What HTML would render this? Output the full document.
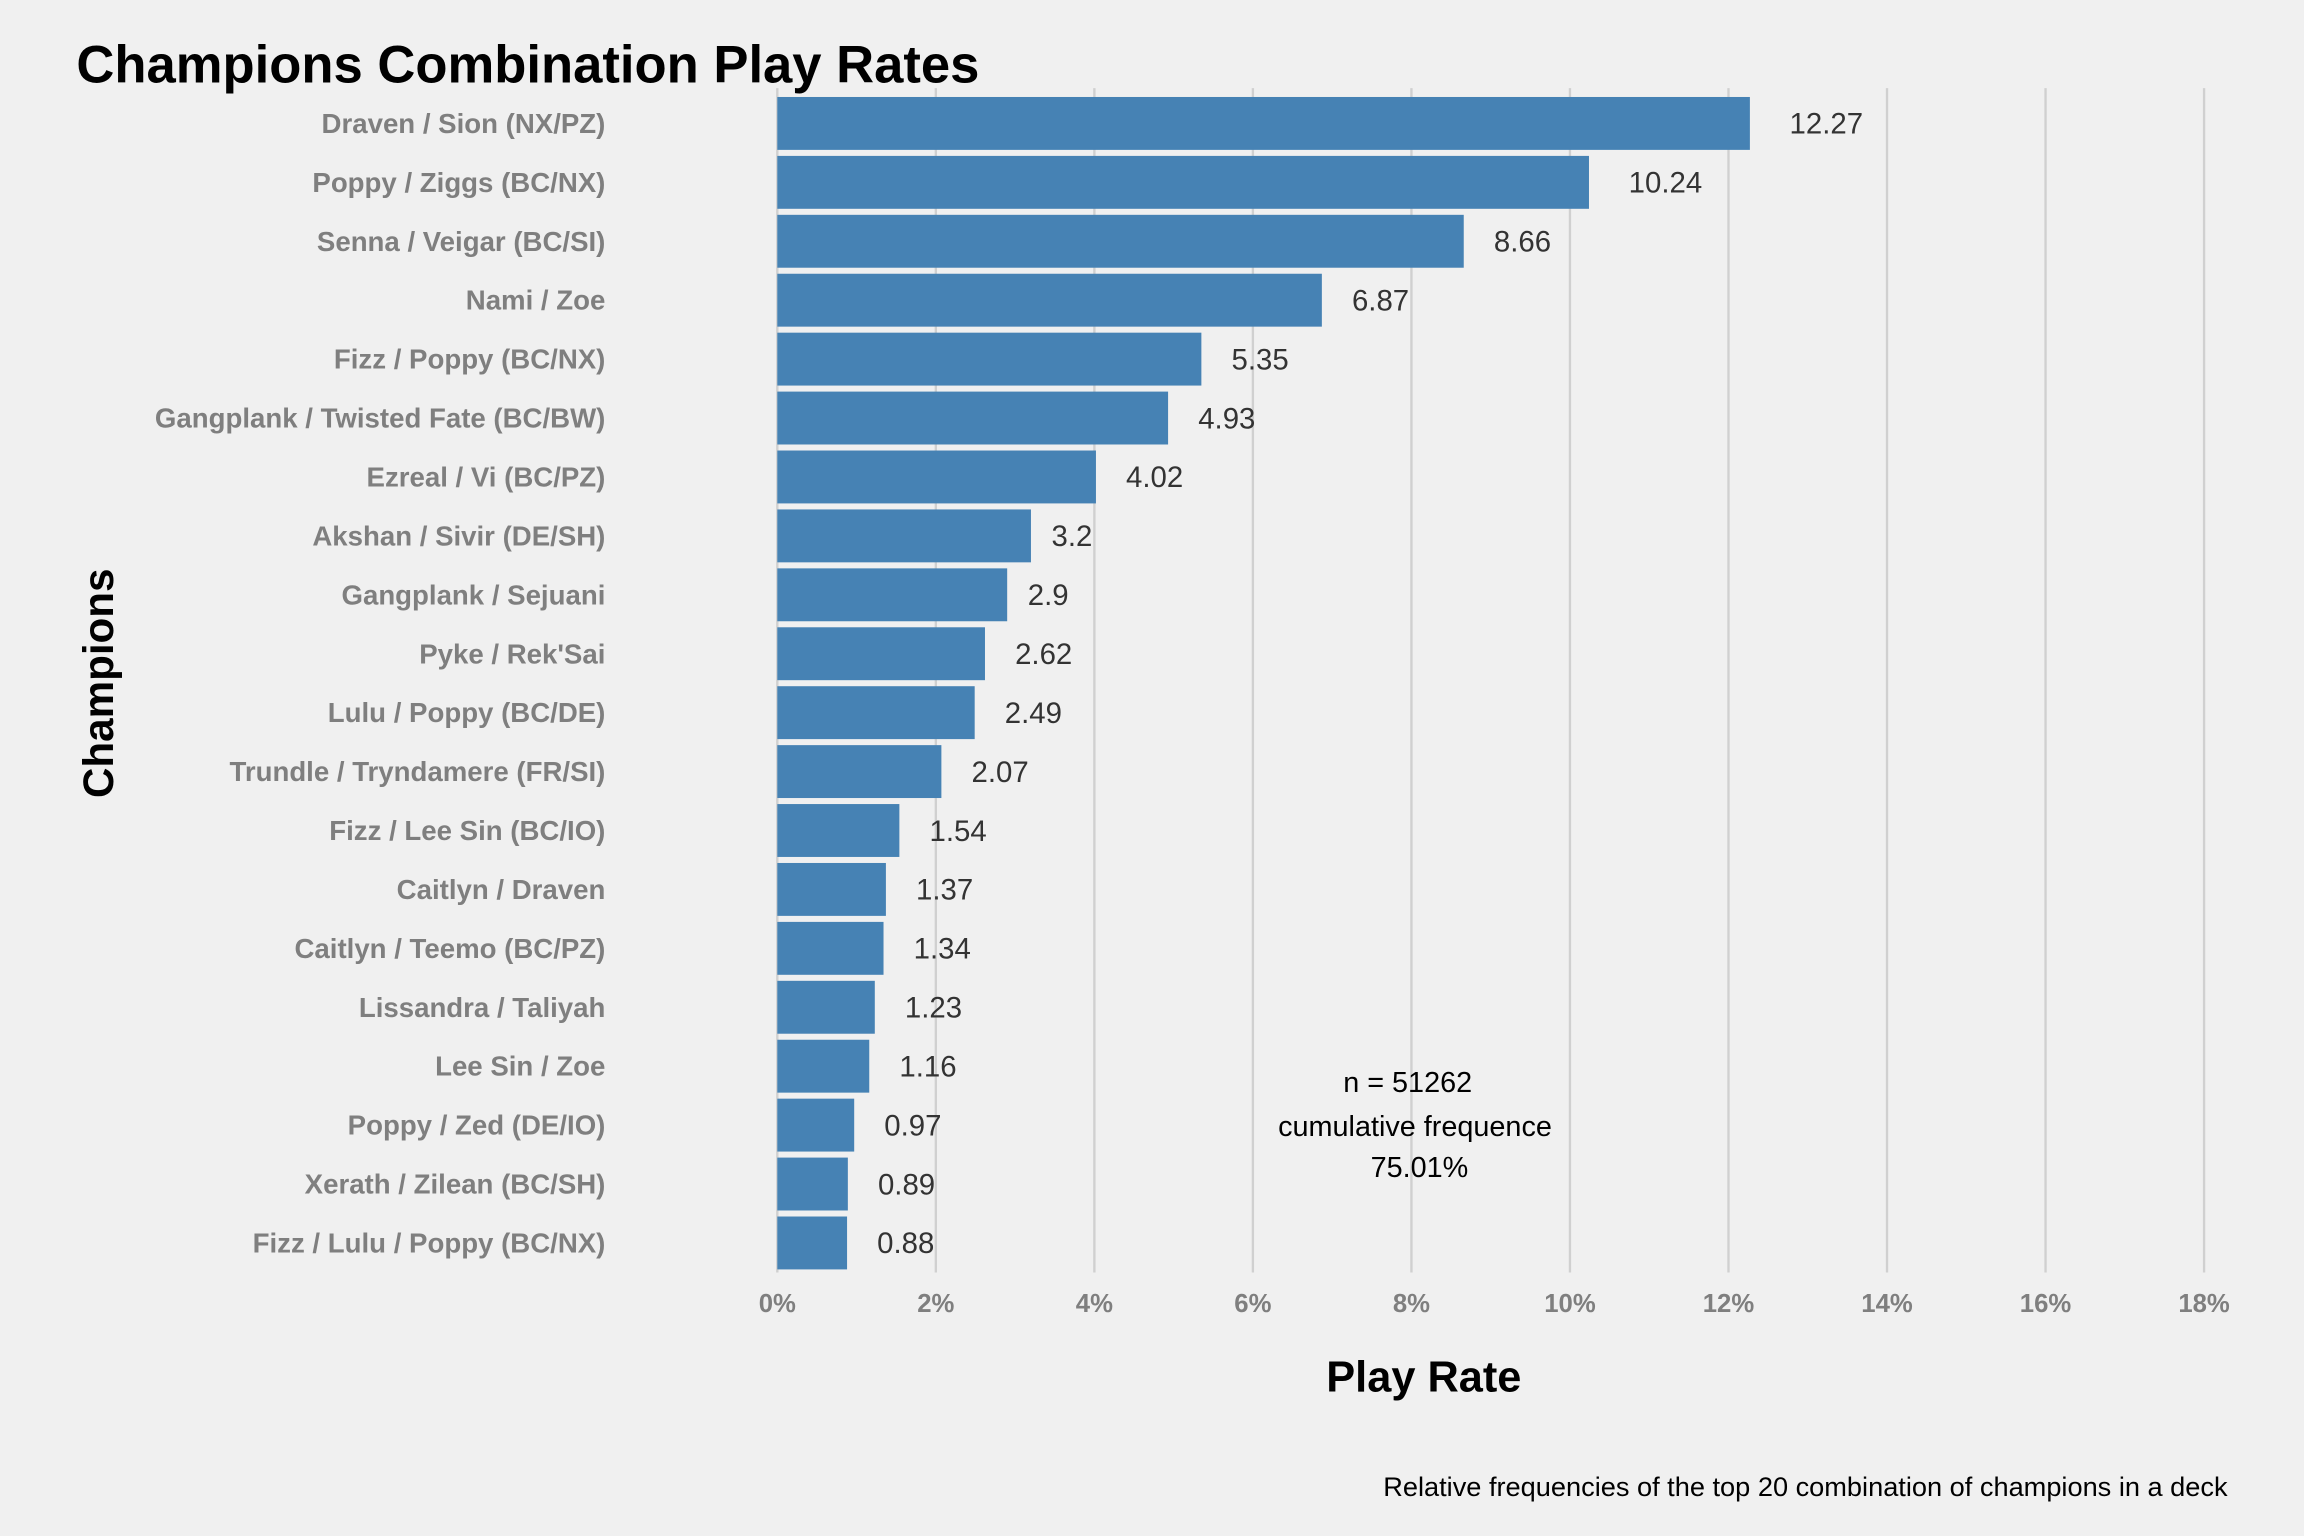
<!DOCTYPE html>
<html><head><meta charset="utf-8"><style>
html,body{margin:0;padding:0;background:#f0f0f0;}
svg{display:block;}
text{font-family:"Liberation Sans",Arial,sans-serif;}
</style></head><body>
<svg id="chart" width="2304" height="1536" viewBox="0 0 1568 1045.33" preserveAspectRatio="none" xmlns="http://www.w3.org/2000/svg">
<rect width="1568" height="1046" fill="#f0f0f0"/>
<g id="grid"></g><g id="bars"></g><g id="labels"></g><g id="ticks"></g>
<text x="52" y="56" font-size="35.8" font-weight="bold" fill="#000">Champions Combination Play Rates</text>
<text x="969" y="947" font-size="29.5" font-weight="bold" fill="#000" text-anchor="middle">Play Rate</text>
<text transform="translate(77,465) rotate(-90)" font-size="28.7" font-weight="bold" fill="#000" text-anchor="middle">Champions</text>
<g font-size="19.6" fill="#000" text-anchor="middle">
<text x="958" y="743">n = 51262</text>
<text x="963" y="773">cumulative frequence</text>
<text x="966" y="801">75.01%</text>
</g>
<text x="1516" y="1018" font-size="18.5" fill="#000" text-anchor="end">Relative frequencies of the top 20 combination of champions in a deck</text>
</svg>
<script>
const categories=["Draven / Sion (NX/PZ)","Poppy / Ziggs (BC/NX)","Senna / Veigar (BC/SI)","Nami / Zoe","Fizz / Poppy (BC/NX)","Gangplank / Twisted Fate (BC/BW)","Ezreal / Vi (BC/PZ)","Akshan / Sivir (DE/SH)","Gangplank / Sejuani","Pyke / Rek'Sai","Lulu / Poppy (BC/DE)","Trundle / Tryndamere (FR/SI)","Fizz / Lee Sin (BC/IO)","Caitlyn / Draven","Caitlyn / Teemo (BC/PZ)","Lissandra / Taliyah","Lee Sin / Zoe","Poppy / Zed (DE/IO)","Xerath / Zilean (BC/SH)","Fizz / Lulu / Poppy (BC/NX)"];
const values=[12.27,10.24,8.66,6.87,5.35,4.93,4.02,3.2,2.9,2.62,2.49,2.07,1.54,1.37,1.34,1.23,1.16,0.97,0.89,0.88];
const tickValues=[0,2,4,6,8,10,12,14,16,18];
const NS="http://www.w3.org/2000/svg";
const x0=529,x1=1500,xmax=18;
const xs=v=>x0+(x1-x0)*v/xmax;
const yTop=84,step=40.1,bh=36;
const ys=i=>yTop+i*step;
function mk(tag,attrs,parent,txt){const e=document.createElementNS(NS,tag);for(const k in attrs)e.setAttribute(k,attrs[k]);if(txt!==undefined)e.textContent=txt;parent.appendChild(e);return e;}
const grid=document.getElementById('grid'),bars=document.getElementById('bars'),labels=document.getElementById('labels'),ticks=document.getElementById('ticks');
tickValues.forEach(t=>{
 const l=mk('line',{x1:xs(t),x2:xs(t),y1:60,y2:866,stroke:'#d0d0d0','stroke-width':1.6},grid);
 
 
 const tx=mk('text',{x:xs(t),y:893,'font-size':17.5,'font-weight':'bold',fill:'#7f7f7f','text-anchor':'middle'},ticks,t+'%');
 
 
});
categories.forEach((c,i)=>{
 const v=values[i],y=ys(i);
 const r=mk('rect',{x:x0,y:y-bh/2,width:xs(v)-x0,height:bh,fill:'#4682b4'},bars);
 
 
 const lt=mk('text',{x:412,y:y+6.5,'font-size':18.8,'font-weight':'bold',fill:'#7f7f7f','text-anchor':'end'},labels,c);
 
 
 const s=String(v);
 const vt=mk('text',{x:xs(v)+6.5*s.length-5.5,y:y+7,'font-size':20,fill:'#333'},labels,s);
 
 
});
</script>
</body></html>
